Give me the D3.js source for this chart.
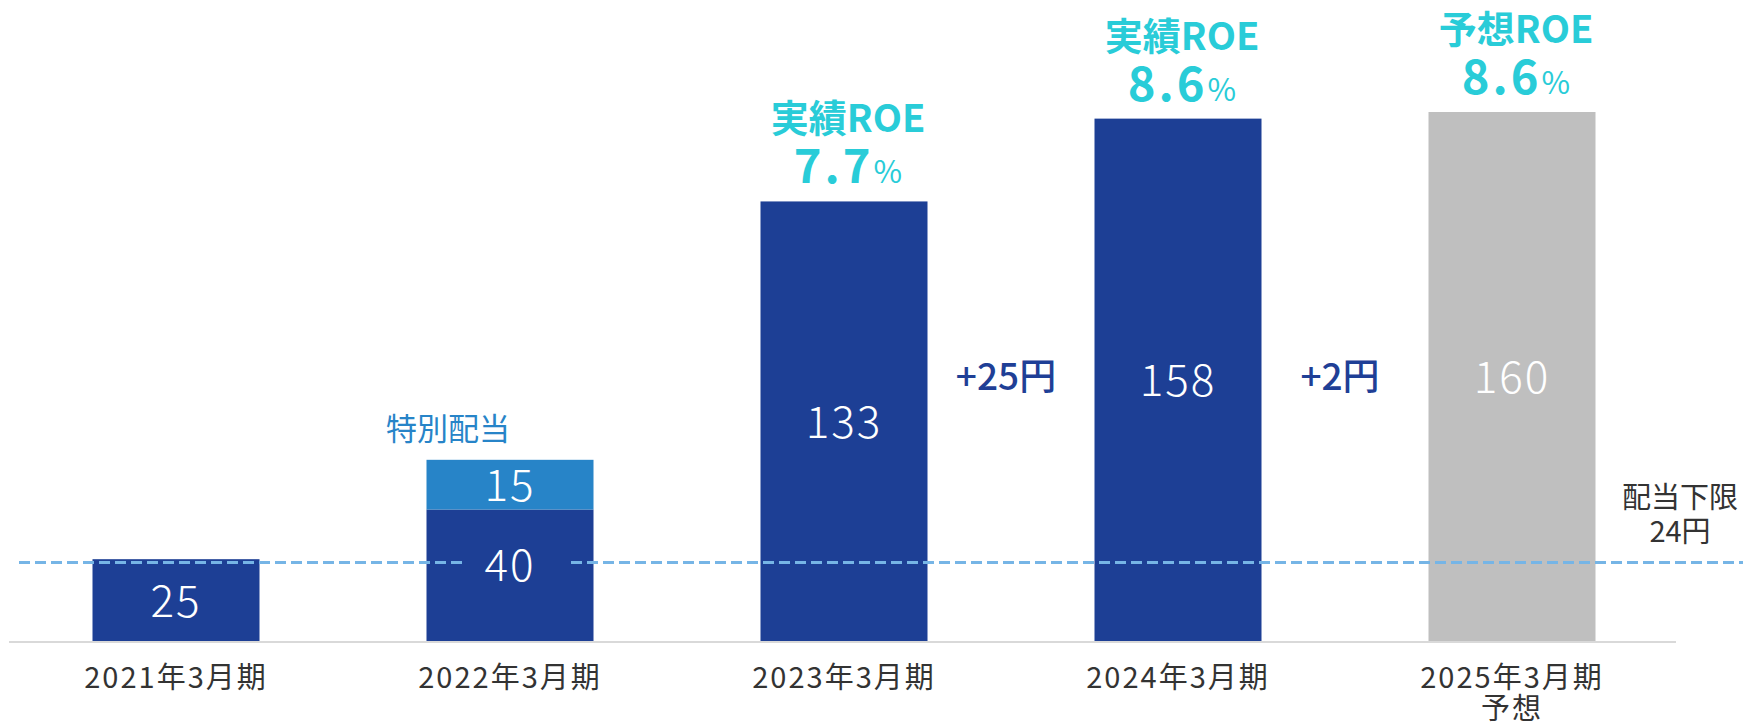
<!DOCTYPE html>
<html>
<head>
<meta charset="utf-8">
<script src="https://cdn.jsdelivr.net/npm/d3@7"></script>
<style>
  html, body { margin: 0; padding: 0; background: #fff; }
  svg { display: block; font-family: "Noto Sans CJK JP", "Noto Sans", sans-serif; }
</style>
</head>
<body>
<svg id="chart" width="1743" height="727"></svg>
<script>
// --- data ---
const categories = ['2021年3月期', '2022年3月期', '2023年3月期', '2024年3月期', '2025年3月期'];
const subLabels = ['', '', '', '', '予想'];
const ordinary = [25, 40, 133, 158, 160];
const special = [0, 15, 0, 0, 0];
const forecast = [false, false, false, false, true];
const roeTitles = [null, null, '実績ROE', '実績ROE', '予想ROE'];
const roeValues = [null, null, '7.7', '8.6', '8.6'];
const stepAfter = [2, 3];            // increase shown between bar i and i+1
const stepLabels = ['+25円', '+2円'];
const floorValue = 24;
const floorLabel = ['配当下限', '24円'];
const specialLabel = '特別配当';

const C = {
  blue: '#1d3f95', special: '#2784c8', gray: '#bfbfbf', cyan: '#29ccd8',
  dash: '#76b5e6', axis: '#d9d9d9', text: '#333333', step: '#1f3f96'
};

const svg = d3.select('#chart');

const x = d3.scaleBand().domain(categories).range([9, 1679])
  .paddingInner(0.5).paddingOuter(0.25);
const y = d3.scaleLinear().domain([0, 160]).range([642, 112]);
const bw = x.bandwidth();

const rows = categories.map((c, i) => ({
  cat: c, sub: subLabels[i], base: ordinary[i], extra: special[i], fc: forecast[i],
  roeT: roeTitles[i], roeV: roeValues[i]
}));

// --- bars ---
const bar = svg.selectAll('.bar').data(rows).enter().append('g').attr('class', 'bar');

bar.append('rect')
  .attr('x', d => x(d.cat)).attr('width', bw)
  .attr('y', d => y(d.base)).attr('height', d => y(0) - y(d.base))
  .attr('fill', d => d.fc ? C.gray : C.blue);

bar.filter(d => d.extra > 0).append('rect')
  .attr('x', d => x(d.cat)).attr('width', bw)
  .attr('y', d => y(d.base + d.extra)).attr('height', d => y(d.base) - y(d.base + d.extra))
  .attr('fill', C.special);

// axis baseline
svg.append('line')
  .attr('x1', 9).attr('x2', 1676).attr('y1', y(0)).attr('y2', y(0))
  .attr('stroke', C.axis).attr('stroke-width', 2);

// dividend floor, broken around the label inside bar 2
const gapBar = rows.find(d => d.extra > 0);
const gapC = x(gapBar.cat) + bw / 2;
[[19, gapC - 48], [gapC + 61, 1743]].forEach(([a, b]) => {
  svg.append('line')
    .attr('x1', a).attr('x2', b).attr('y1', y(floorValue)).attr('y2', y(floorValue))
    .attr('stroke', C.dash).attr('stroke-width', 3).attr('stroke-dasharray', '11,5');
});

// value labels
const valueText = (sel, cx, cy, txt) => sel.append('text')
  .attr('x', cx).attr('y', cy + 16)
  .attr('text-anchor', 'middle').attr('fill', '#fff')
  .attr('font-size', 44).attr('font-weight', 300).attr('letter-spacing', 2)
  .text(txt);

bar.each(function (d) {
  const g = d3.select(this);
  const cx = x(d.cat) + bw / 2;
  const mid = (y(0) + y(d.base)) / 2 - (d.extra > 0 ? 11 : 0);
  valueText(g, cx, mid, d.base);
  if (d.extra > 0) valueText(g, cx, (y(d.base) + y(d.base + d.extra)) / 2, d.extra);
});

// special dividend caption
svg.append('text')
  .attr('x', gapC - 62).attr('y', y(gapBar.base + gapBar.extra) - 20)
  .attr('text-anchor', 'middle').attr('fill', C.special)
  .attr('font-size', 31).text(specialLabel);

// ROE labels
const roe = bar.filter(d => d.roeT);
roe.append('text')
  .attr('x', d => x(d.cat) + bw / 2 + 4).attr('y', d => y(d.base) - 69)
  .attr('text-anchor', 'middle').attr('fill', C.cyan)
  .attr('font-size', 38).attr('font-weight', 700)
  .text(d => d.roeT);
const pct = roe.append('text')
  .attr('x', d => x(d.cat) + bw / 2 + 4).attr('y', d => y(d.base) - 18)
  .attr('text-anchor', 'middle').attr('fill', C.cyan).attr('font-weight', 700);
pct.append('tspan').attr('font-size', 47).attr('letter-spacing', 3).text(d => d.roeV);
pct.append('tspan').attr('font-size', 31).attr('font-weight', 400).text('%');

// increase labels between bars
stepAfter.forEach((i, k) => {
  const gx = (x(categories[i]) + bw + x(categories[i + 1])) / 2 - 5;
  svg.append('text')
    .attr('x', gx).attr('y', 390)
    .attr('text-anchor', 'middle').attr('fill', C.step)
    .attr('font-size', 37).attr('font-weight', 500)
    .text(stepLabels[k]);
});

// floor label
floorLabel.forEach((t, k) => {
  svg.append('text')
    .attr('x', 1680).attr('y', 508 + k * 34)
    .attr('text-anchor', 'middle').attr('fill', C.text)
    .attr('font-size', 29).text(t);
});

// category labels
const cl = svg.selectAll('.cat').data(rows).enter().append('text')
  .attr('class', 'cat')
  .attr('x', d => x(d.cat) + bw / 2).attr('y', 688)
  .attr('text-anchor', 'middle').attr('fill', C.text)
  .attr('font-size', 29).attr('letter-spacing', 2);
cl.append('tspan').text(d => d.cat);
cl.filter(d => d.sub).append('tspan')
  .attr('x', d => x(d.cat) + bw / 2).attr('dy', 31).text(d => d.sub);
</script>
</body>
</html>
